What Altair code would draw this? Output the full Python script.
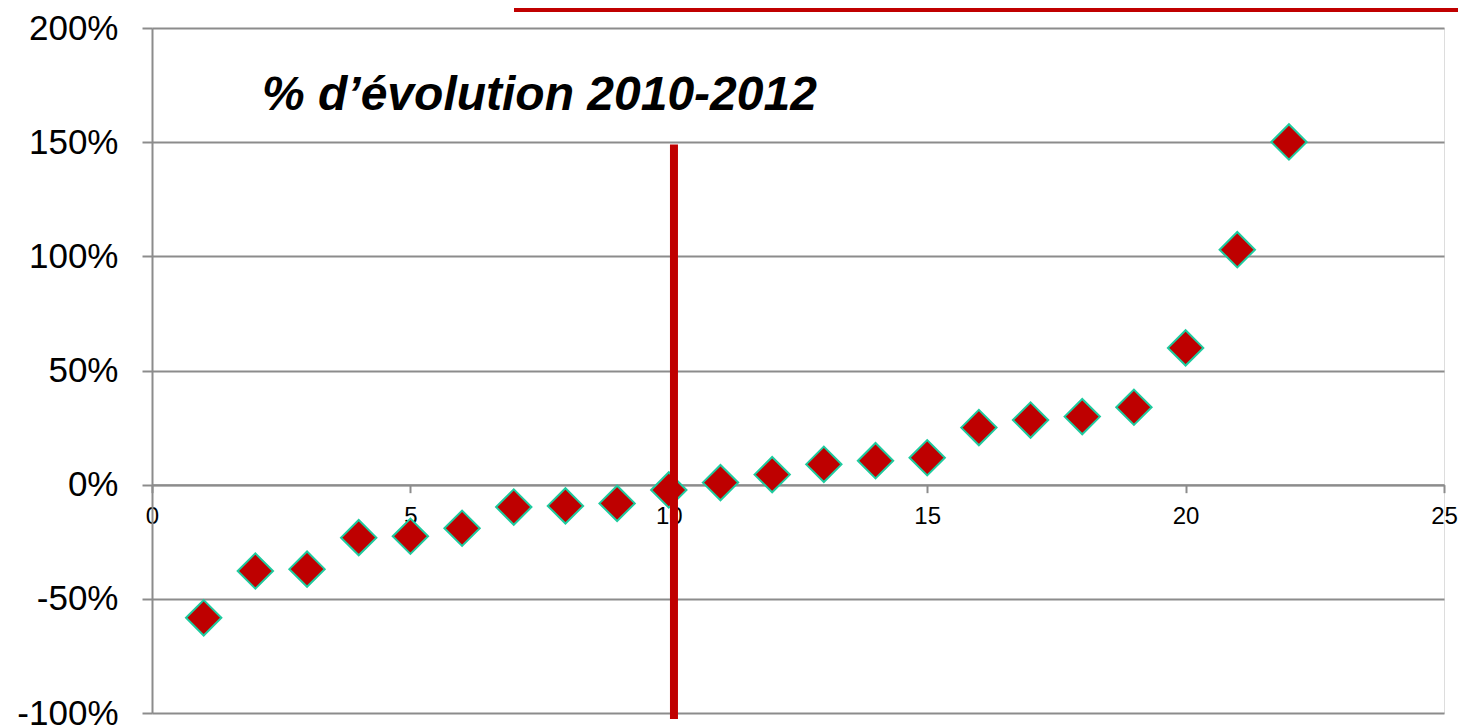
import altair as alt
import pandas as pd

rank = list(range(1, 23))
evolution = [-0.583, -0.378, -0.370, -0.232, -0.226, -0.191, -0.098, -0.093,
             -0.082, -0.023, 0.009, 0.044, 0.089, 0.105, 0.118, 0.250, 0.283,
             0.298, 0.339, 0.599, 1.029, 1.501]
title_text = ["% d\u2019évolution 2010-2012"]
marker_x = [10.1]

W, H = 1292, 685
FONT = "Liberation Sans"
GRID = "#8c8c8c"

df = pd.DataFrame({"rank": rank, "evolution": evolution})

xscale = alt.Scale(domain=[0, 25], nice=False, zero=False)
yscale = alt.Scale(domain=[-1, 2], nice=False)

points = alt.Chart(df).mark_point(
    shape="diamond", filled=True, size=1250, fill="#BE0000",
    stroke="#1ECB9F", strokeWidth=2, opacity=1
).encode(
    x=alt.X("rank:Q", scale=xscale, axis=alt.Axis(
        values=[0, 5, 10, 15, 20, 25], format="d", grid=False,
        offset=-H / 3, domainColor=GRID, domainWidth=2, tickColor=GRID,
        tickWidth=2, tickSize=8, labelFontSize=24, labelFont=FONT,
        labelColor="#000000", labelPadding=12, labelFlush=False, title=None)),
    y=alt.Y("evolution:Q", scale=yscale, axis=alt.Axis(
        values=[-1, -0.5, 0, 0.5, 1, 1.5, 2],
        labelExpr="replace(format(datum.value, '.0%'), '\u2212', '-')",
        grid=True,
        gridColor=GRID, gridWidth=2, domainColor=GRID, domainWidth=2,
        tickColor=GRID, tickWidth=2, tickSize=10, labelFontSize=35,
        labelFont=FONT, labelColor="#000000", labelPadding=24, title=None)),
)

vline = alt.Chart(pd.DataFrame({"x": marker_x})).mark_rule(
    color="#C00000", strokeWidth=8
).encode(
    x=alt.X("x:Q", scale=xscale),
    y=alt.datum(1.49, scale=yscale),
    y2=alt.value(691),
)

title = alt.Chart(pd.DataFrame({"t": title_text})).mark_text(
    font=FONT, fontSize=48, fontWeight="bold", fontStyle="italic",
    align="left", baseline="alphabetic", color="#000000"
).encode(text="t:N", x=alt.value(110), y=alt.value(82))

banner = alt.Chart(pd.DataFrame({"t": ["banner"]})).mark_rect(
    color="#C00000"
).encode(x=alt.value(362), x2=alt.value(1330), y=alt.value(-28), y2=alt.value(-16))

chart = alt.layer(points, vline, title, banner).properties(
    width=W, height=H,
    autosize=alt.AutoSizeParams(type="none"),
    padding={"left": 144, "top": 20, "right": 14, "bottom": 12},
).configure_view(stroke=None, clip=False).configure(background="white")

chart.save("out.html", embed_options={"renderer": "svg", "actions": False})
